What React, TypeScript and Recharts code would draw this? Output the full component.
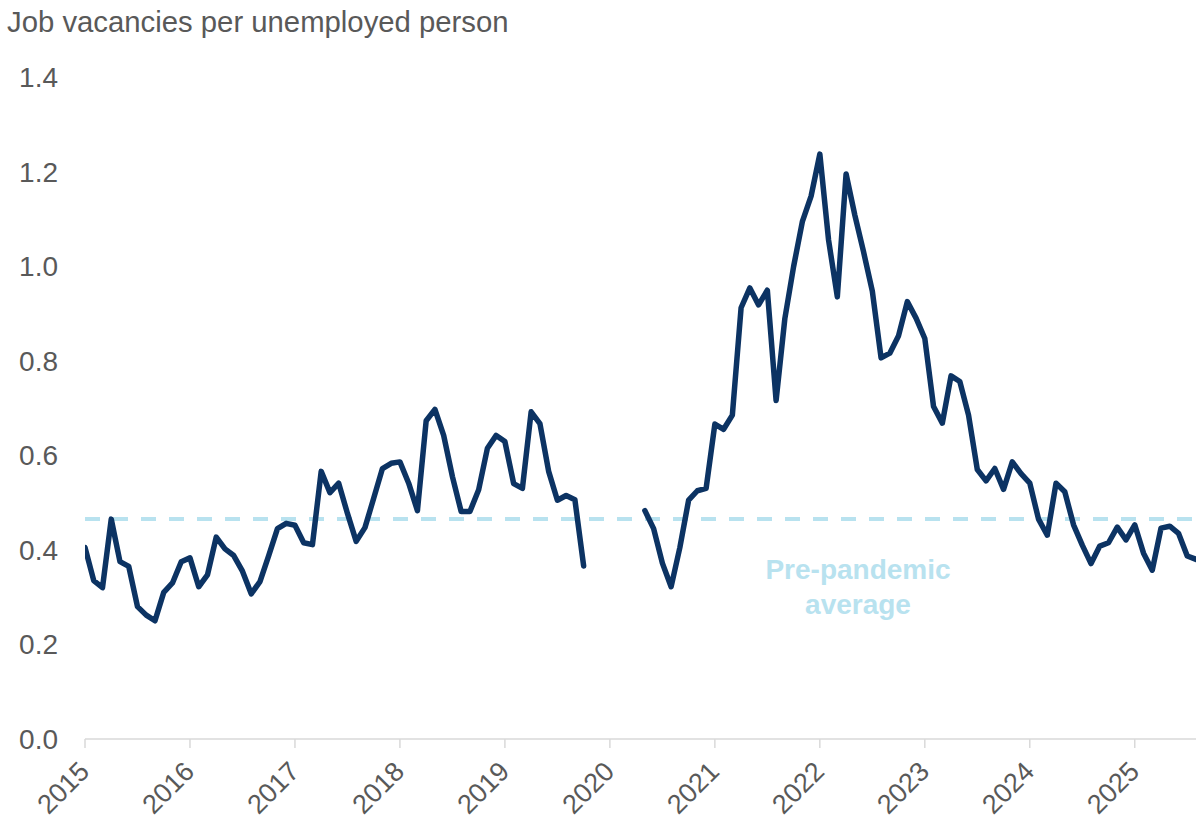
import React from 'react';
import { LineChart, Line, XAxis, YAxis, ReferenceLine } from 'recharts';

const startYear = 2015;
const yearTicks = [2015, 2016, 2017, 2018, 2019, 2020, 2021, 2022, 2023, 2024, 2025];
const yTicks = [0, 0.2, 0.4, 0.6, 0.8, 1.0, 1.2, 1.4];
const prePandemicAverage = 0.465;

const v2015 = [0.405, 0.335, 0.32, 0.465, 0.375, 0.365, 0.28, 0.262, 0.25, 0.31, 0.33, 0.375];
const v2016 = [0.383, 0.322, 0.347, 0.427, 0.402, 0.388, 0.355, 0.307, 0.333, 0.388, 0.445, 0.456];
const v2017 = [0.452, 0.415, 0.411, 0.566, 0.521, 0.541, 0.477, 0.418, 0.447, 0.509, 0.572, 0.583];
const v2018 = [0.586, 0.541, 0.483, 0.673, 0.697, 0.642, 0.555, 0.481, 0.481, 0.527, 0.615, 0.642];
const v2019 = [0.629, 0.54, 0.53, 0.692, 0.667, 0.566, 0.505, 0.515, 0.506, 0.366, null, null];
const v2020 = [null, null, null, null, 0.483, 0.445, 0.372, 0.322, 0.405, 0.505, 0.525, 0.53];
const v2021 = [0.666, 0.655, 0.685, 0.912, 0.954, 0.918, 0.949, 0.716, 0.889, 0.999, 1.094, 1.148];
const v2022 = [1.237, 1.055, 0.935, 1.195, 1.108, 1.03, 0.947, 0.806, 0.816, 0.853, 0.925, 0.89];
const v2023 = [0.847, 0.703, 0.668, 0.768, 0.756, 0.685, 0.57, 0.546, 0.572, 0.528, 0.586, 0.561];
const v2024 = [0.541, 0.465, 0.431, 0.541, 0.523, 0.453, 0.41, 0.371, 0.408, 0.415, 0.448, 0.421];
const v2025 = [0.453, 0.393, 0.357, 0.446, 0.45, 0.435, 0.387, 0.38];

const allValues: (number | null)[] = [
  ...v2015, ...v2016, ...v2017, ...v2018, ...v2019, ...v2020,
  ...v2021, ...v2022, ...v2023, ...v2024, ...v2025,
];

const data = allValues.map((v, i) => ({ t: startYear + i / 12, v }));
const lastT = startYear + (allValues.length - 1) / 12;

const TEXT = '#595959';
const NAVY = '#0c3363';
const LIGHT = '#b8e2ef';
const FONT = '"Liberation Sans", Arial, sans-serif';

const XTick = (props: any) => {
  const { x, y, payload } = props;
  const ax = x + 6;
  const ay = y + 23;
  return (
    <text
      x={ax}
      y={ay}
      textAnchor="end"
      transform={`rotate(-45, ${ax}, ${ay})`}
      fill={TEXT}
      fontSize={27}
      fontFamily={FONT}
    >
      {payload.value}
    </text>
  );
};

export default function App() {
  return (
    <div style={{ position: 'absolute', left: 0, top: 0, width: 1197, height: 821, background: '#fff', fontFamily: FONT }}>
      <LineChart
        width={1197}
        height={821}
        data={data}
        margin={{ top: 77, right: 1, bottom: 52, left: 0 }}
      >
        <XAxis
          type="number"
          dataKey="t"
          domain={[startYear, lastT]}
          ticks={yearTicks}
          interval={0}
          height={30}
          stroke="#d9d9d9"
          axisLine={{ stroke: '#d9d9d9', strokeWidth: 1.5 }}
          tickLine={{ stroke: '#d9d9d9', strokeWidth: 1.5 }}
          tickSize={9}
          tickMargin={2}
          tick={<XTick />}
          allowDataOverflow
        />
        <YAxis
          type="number"
          domain={[0, 1.4]}
          ticks={yTicks}
          interval={0}
          width={85}
          axisLine={false}
          tickLine={false}
          tickSize={0}
          tickMargin={27}
          tick={{ fill: TEXT, fontSize: 28, fontFamily: FONT }}
          tickFormatter={(v: number) => v.toFixed(1)}
        />
        <ReferenceLine
          y={prePandemicAverage}
          stroke={LIGHT}
          strokeWidth={4}
          strokeDasharray="15 13"
        />
        <Line
          type="linear"
          dataKey="v"
          stroke={NAVY}
          strokeWidth={5.5}
          dot={false}
          activeDot={false}
          connectNulls={false}
          isAnimationActive={false}
          strokeLinejoin="round"
          strokeLinecap="round"
        />
      </LineChart>
      <svg
        width={1197}
        height={821}
        style={{ position: 'absolute', left: 0, top: 0, pointerEvents: 'none' }}
      >
        <text x={7} y={32} fill={TEXT} fontSize={29.3} fontFamily={FONT}>
          Job vacancies per unemployed person
        </text>
        <text x={858} y={579} textAnchor="middle" fill={LIGHT} fontSize={28} fontWeight="bold" fontFamily={FONT}>
          Pre-pandemic
        </text>
        <text x={858} y={614} textAnchor="middle" fill={LIGHT} fontSize={28} fontWeight="bold" fontFamily={FONT}>
          average
        </text>
      </svg>
    </div>
  );
}
